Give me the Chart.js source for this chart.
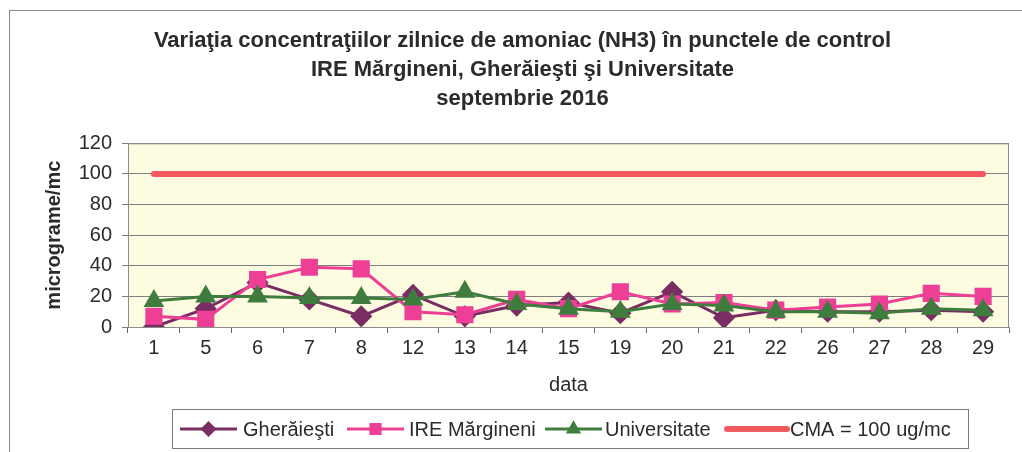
<!DOCTYPE html>
<html>
<head>
<meta charset="utf-8">
<script src="https://cdn.jsdelivr.net/npm/chart.js@4.4.1/dist/chart.umd.min.js"></script>
<style>
  html, body { margin: 0; padding: 0; background: #fff; }
  #wrap { width: 1022px; height: 452px; }
</style>
</head>
<body>
<div id="wrap"><canvas id="nh3Chart" width="1022" height="452"></canvas></div>
<script>
/* ---------- DATA ---------- */
const days = ['1', '5', '6', '7', '8', '12', '13', '14', '15', '19', '20', '21', '22', '26', '27', '28', '29'];
const gheraiesti   = [0, 12, 29, 18, 7, 21, 7, 14, 16, 9, 23, 6, 11, 10, 10, 11, 10];
const ireMargineni = [7, 5, 31, 39, 38, 10, 8, 18, 12, 23, 15, 16, 11, 13, 15, 22, 20];
const universitate = [17, 20, 20, 19, 19, 18, 23, 15, 12, 10, 15, 14, 10, 10, 9, 12, 11];
const cma          = days.map(() => 100);
const yTicks       = [0, 20, 40, 60, 80, 100, 120];

const titleLines = [
    'Variaţia concentraţiilor zilnice de amoniac (NH3) în punctele de control',
    'IRE Mărgineni, Gherăieşti şi Universitate',
    'septembrie 2016'
];

const FONT = 'Arial, "Liberation Sans", sans-serif';
const TEXT = '#2b2b2b';

const COLORS = {
    gher: '#7a2d63',
    ire:  '#ee3f97',
    univ: '#3f7d3e',
    cma:  '#f25a60',
    plot: '#fdfbe0',
    grid: '#7e7e7e',
};

/* ---- background, frame, plot area ---- */
const backdrop = {
    id: 'backdrop',
    beforeDraw(chart) {
        const { ctx, chartArea: a } = chart;
        ctx.save();
        ctx.fillStyle = '#fff';
        ctx.fillRect(0, 0, chart.width, chart.height);
        ctx.strokeStyle = '#8a8a8a';
        ctx.lineWidth = 1;
        ctx.strokeRect(9.5, 10.5, chart.width + 20, chart.height + 20);
        ctx.fillStyle = COLORS.plot;
        ctx.fillRect(a.left, a.top, a.right - a.left, a.bottom - a.top);
        ctx.restore();
    },
    beforeDatasetsDraw(chart) {
        const { ctx, chartArea: a } = chart;
        ctx.save();
        ctx.strokeStyle = '#8c8c8c';
        ctx.lineWidth = 1;
        ctx.strokeRect(a.left + 0.5, a.top + 0.5, a.right - a.left - 1, a.bottom - a.top);
        ctx.restore();
    }
};

/* ---- boxed legend like the Excel one ---- */
const boxLegend = {
    id: 'boxLegend',
    afterDraw(chart) {
        const ctx = chart.ctx;
        const items = [
            { ds: 0, x1: 180, x2: 237, tx: 243 },
            { ds: 1, x1: 347, x2: 404, tx: 409 },
            { ds: 2, x1: 545, x2: 602, tx: 605 },
            { ds: 3, x1: 727, x2: 787, tx: 790 },
        ];
        const y = 429;
        ctx.save();
        ctx.strokeStyle = '#7a7a7a';
        ctx.lineWidth = 1;
        ctx.strokeRect(172.5, 409.5, 796, 39);
        ctx.font = '20px ' + FONT;
        ctx.textBaseline = 'middle';
        ctx.fillStyle = TEXT;
        items.forEach(it => {
            const ds = chart.data.datasets[it.ds];
            ctx.strokeStyle = ds.borderColor;
            ctx.lineWidth = ds.borderWidth;
            ctx.lineCap = it.ds === 3 ? 'round' : 'butt';
            ctx.beginPath();
            ctx.moveTo(it.x1, y);
            ctx.lineTo(it.x2, y);
            ctx.stroke();
            if (ds.pointRadius) {
                ctx.fillStyle = ds.pointBackgroundColor;
                ctx.strokeStyle = ds.pointBorderColor;
                Chart.helpers.drawPoint(ctx, {
                    pointStyle: ds.pointStyle,
                    radius: ds.pointRadius * 0.65,
                    borderWidth: 1,
                }, (it.x1 + it.x2) / 2, y);
            }
            ctx.fillStyle = TEXT;
            ctx.fillText(ds.label, it.tx, y + 1);
        });
        ctx.restore();
    }
};

/* ---------- CHART ---------- */
const ctx = document.getElementById('nh3Chart');
new Chart(ctx, {
    type: 'line',
    data: {
        labels: days,
        datasets: [
            {
                label: 'Gherăieşti',
                data: gheraiesti,
                borderColor: COLORS.gher,
                borderWidth: 3,
                pointStyle: 'rectRot',
                pointRadius: 9,
                pointBackgroundColor: COLORS.gher,
                pointBorderColor: COLORS.gher,
                order: 4,
            },
            {
                label: 'IRE Mărgineni',
                data: ireMargineni,
                borderColor: COLORS.ire,
                borderWidth: 3,
                pointStyle: 'rect',
                pointRadius: 10,
                pointBackgroundColor: COLORS.ire,
                pointBorderColor: COLORS.ire,
                order: 3,
            },
            {
                label: 'Universitate',
                data: universitate,
                borderColor: COLORS.univ,
                borderWidth: 3,
                pointStyle: 'triangle',
                pointRadius: 9,
                pointBackgroundColor: COLORS.univ,
                pointBorderColor: COLORS.univ,
                order: 2,
            },
            {
                label: 'CMA = 100 ug/mc',
                data: cma,
                borderColor: COLORS.cma,
                borderWidth: 6,
                borderCapStyle: 'round',
                pointRadius: 0,
                order: 1,
            },
        ]
    },
    options: {
        responsive: false,
        animation: false,
        layout: { padding: { left: 28, right: 5, top: 0, bottom: 50 } },
        plugins: {
            legend: { display: false },
            tooltip: { enabled: false },
            title: {
                display: true,
                text: titleLines,
                color: TEXT,
                font: { family: FONT, size: 22, weight: 'bold', lineHeight: 1.3 },
                padding: { top: 27, bottom: 30.5 },
            }
        },
        scales: {
            x: {
                offset: true,
                grid: { offset: true, drawOnChartArea: false, tickLength: 6, color: '#666' },
                border: { color: '#808080' },
                ticks: { color: TEXT, font: { family: FONT, size: 20 }, padding: 3, maxRotation: 0, autoSkip: false },
                title: {
                    display: true,
                    text: 'data',
                    color: TEXT,
                    font: { family: FONT, size: 20 },
                    padding: { top: 0, bottom: 5 },
                },
                afterFit: s => { s.height = 75; }
            },
            y: {
                min: 0,
                max: 120,
                afterBuildTicks: s => { s.ticks = yTicks.map(v => ({ value: v })); },
                grid: { color: COLORS.grid, tickLength: 6 },
                border: { color: '#808080' },
                ticks: { color: TEXT, font: { family: FONT, size: 20 }, padding: 10 },
                title: {
                    display: true,
                    text: 'micrograme/mc',
                    color: TEXT,
                    font: { family: FONT, size: 20, weight: 'bold' },
                    padding: { top: 14, bottom: 0 },
                },
                afterFit: s => { s.width = 100; }
            }
        }
    },
    plugins: [backdrop, boxLegend]
});
</script>
</body>
</html>
